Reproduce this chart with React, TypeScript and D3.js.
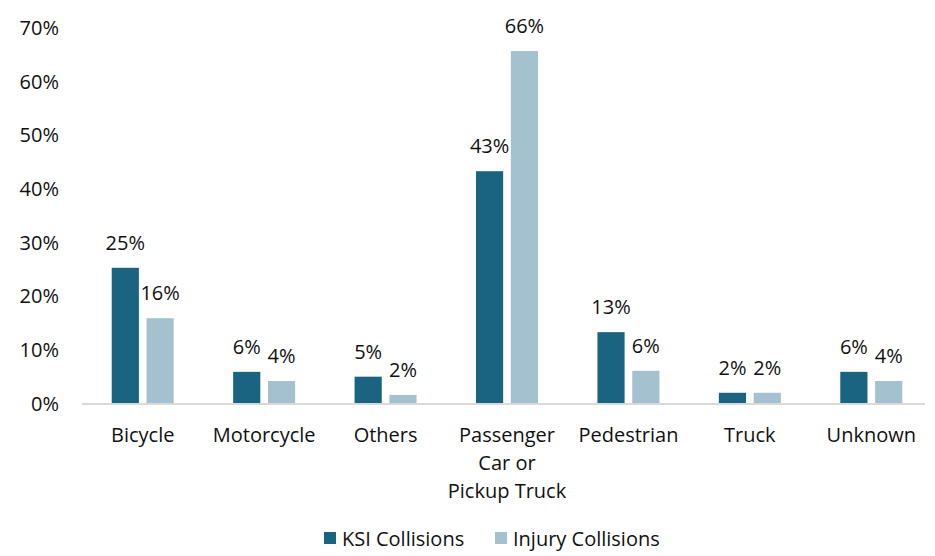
import React from "react";
import * as d3 from "d3";

const categories = ["Bicycle", "Motorcycle", "Others", "Passenger Car or Pickup Truck", "Pedestrian", "Truck", "Unknown"];
const categoryLines = [["Bicycle"], ["Motorcycle"], ["Others"], ["Passenger", "Car or", "Pickup Truck"], ["Pedestrian"], ["Truck"], ["Unknown"]];
const seriesNames = ["KSI Collisions", "Injury Collisions"];
const ksi = [25.3, 5.9, 5.0, 43.3, 13.3, 2.0, 5.9];
const injury = [15.9, 4.2, 1.6, 65.7, 6.1, 2.0, 4.2];
const yTicks = [0, 10, 20, 30, 40, 50, 60, 70];
const colors = ["#1a6381", "#a3c1ce"];

const W = 935, H = 556;
const FONT = "'Open Sans', 'Noto Sans', sans-serif";
const FS = 20;

export default function App() {
  const x = d3.scaleBand<string>().domain(categories).range([82, 932]).paddingInner(0).paddingOuter(0);
  const margin = (x.bandwidth() - 62) / 2;
  const inner = d3.scaleBand<string>().domain(seriesNames).range([margin, margin + 62]).paddingInner(0.22).paddingOuter(0);
  const y = d3.scaleLinear().domain([0, 70]).range([403.5, 28]);
  const series = [ksi, injury];
  return (
    <svg width={W} height={H} style={{ position: "absolute", left: 0, top: 0, background: "#fff" }} fontFamily={FONT}>
      <rect x={0} y={0} width={W} height={H} fill="#fff" />
      {yTicks.map((t) => (
        <text key={t} x={59} y={y(t)} dy="0.35em" textAnchor="end" fontSize={FS} fill="#111">{`${t}%`}</text>
      ))}
      {series.map((vals, si) =>
        vals.map((v, i) => {
          const bx = (x(categories[i]) as number) + (inner(seriesNames[si]) as number);
          const bw = inner.bandwidth();
          return (
            <g key={`${si}-${i}`}>
              <rect x={bx} y={y(v)} width={bw} height={y(0) - y(v)} fill={colors[si]} />
              <text x={bx + bw / 2} y={y(v) - 18} textAnchor="middle" fontSize={FS} fill="#111">{`${Math.round(v)}%`}</text>
            </g>
          );
        })
      )}
      <line x1={82} x2={925} y1={y(0) + 0.5} y2={y(0) + 0.5} stroke="#d9d9d9" strokeWidth={2} />
      {categoryLines.map((lines, i) => (
        <text key={i} x={(x(categories[i]) as number) + x.bandwidth() / 2} y={441.5} textAnchor="middle" fontSize={FS} fill="#111">
          {lines.map((l, j) => (
            <tspan key={j} x={(x(categories[i]) as number) + x.bandwidth() / 2} dy={j === 0 ? 0 : 28}>{l}</tspan>
          ))}
        </text>
      ))}
      {seriesNames.map((s, si) => {
        const lx = si === 0 ? 324 : 495;
        return (
          <g key={s}>
            <rect x={lx} y={532} width={12} height={12} fill={colors[si]} />
            <text x={lx + 18} y={545.5} fontSize={FS} fill="#111">{s}</text>
          </g>
        );
      })}
    </svg>
  );
}
